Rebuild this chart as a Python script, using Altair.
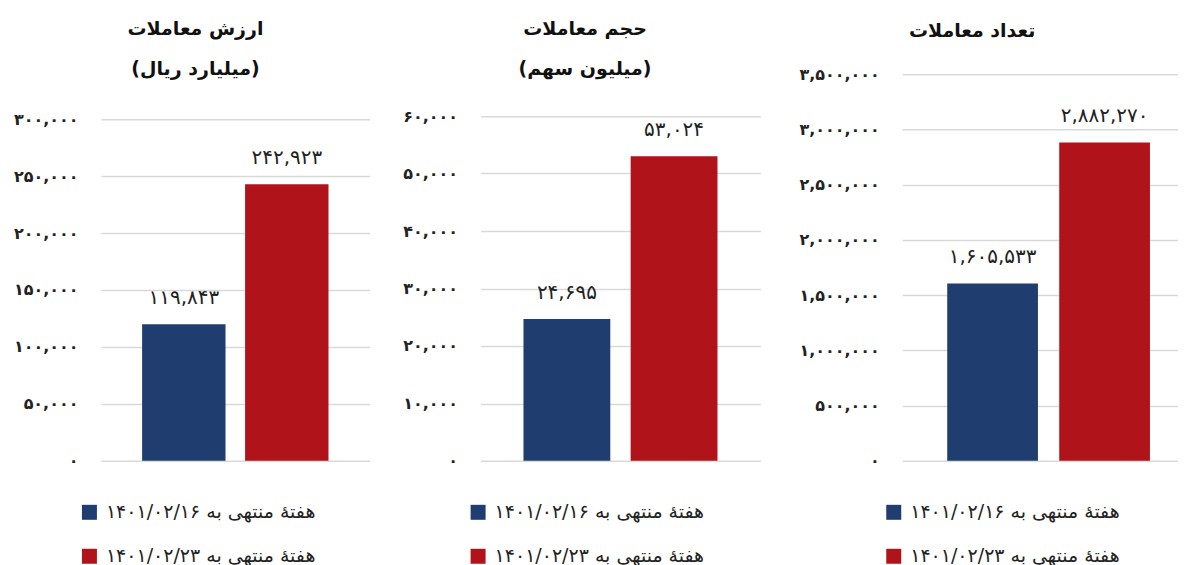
import altair as alt
import pandas as pd

series_labels = ["هفتهٔ منتهی به ۱۴۰۱/۰۲/۱۶", "هفتهٔ منتهی به ۱۴۰۱/۰۲/۲۳"]
series_colors = ["#203D70", "#B0141A"]

value_vals = [119843, 242923]      # ارزش معاملات (میلیارد ریال)
volume_vals = [24695, 53024]       # حجم معاملات (میلیون سهم)
count_vals = [1605533, 2882270]    # تعداد معاملات

value_domain = [0, 300000]
volume_domain = [0, 60000]
count_domain = [0, 3500000]
value_tick_count = 6
volume_tick_count = 6
count_tick_count = 7

titles = [
    ["ارزش معاملات", "(میلیارد ریال)"],
    ["حجم معاملات", "(میلیون سهم)"],
    ["تعداد معاملات"],
]

persian_digits = ["۰", "۱", "۲", "۳", "۴", "۵", "۶", "۷", "۸", "۹"]

FONT = "DejaVu Sans"
H = 387


def panel(vals, domain, tick_count, title, width, top_gap, extent,
          title_dx, title_offset, leg_x, band_pad_outer, band_align):
    df = pd.DataFrame({"series": series_labels, "value": vals})
    base = alt.Chart(df).encode(
        x=alt.X("series:N", sort=series_labels, axis=None,
                scale=alt.Scale(paddingInner=0.19,
                                paddingOuter=band_pad_outer,
                                align=band_align)),
        y=alt.Y("value:Q",
                scale=alt.Scale(domain=domain, nice=False,
                                range=[H, top_gap]),
                axis=alt.Axis(tickCount=tick_count, format=",d", title=None,
                              domain=False, ticks=False, grid=True,
                              gridColor="#D9D9D9", gridWidth=1.5,
                              labelFont=FONT, labelFontSize=16,
                              labelFontWeight=600, labelColor="#222222",
                              labelPadding=23, minExtent=extent,
                              maxExtent=extent)),
    )
    bars = base.mark_bar().encode(
        color=alt.Color("series:N", sort=series_labels,
                        scale=alt.Scale(domain=series_labels,
                                        range=series_colors),
                        legend=alt.Legend(title=None, orient="none",
                                          legendX=leg_x, legendY=429,
                                          symbolType="square",
                                          symbolSize=225,
                                          symbolStrokeWidth=0,
                                          labelFont=FONT, labelFontSize=19,
                                          labelColor="#222222",
                                          labelLimit=400, labelOffset=7,
                                          rowPadding=24))
    )
    labels = base.mark_text(font=FONT, fontSize=20, color="#222222",
                            baseline="middle", dy=-26).encode(
        text=alt.Text("value:Q", format=",")
    )
    return alt.layer(bars, labels).properties(
        width=width, height=H,
        title=alt.TitleParams(text=title, anchor="middle", frame="bounds",
                              font=FONT, fontSize=19, fontWeight="bold",
                              color="#111111", lineHeight=40,
                              offset=title_offset, dx=title_dx),
    )


p1 = panel(value_vals, value_domain, value_tick_count, titles[0],
           269, 45, 87, 4, -5, -21, 0.4, 0.5)
p2 = panel(volume_vals, volume_domain, volume_tick_count, titles[1],
           280, 42, 91, 10, -5, -12, 0.4, 0.5)
p3 = panel(count_vals, count_domain, count_tick_count, titles[2],
           276, 0, 122, -7, 25, -18, 0.326, 0.616)

chart = alt.hconcat(p1, p2, p3, spacing=20).resolve_scale(
    y="independent", color="independent", x="independent"
).resolve_legend(color="independent").properties(
    padding={"left": 5, "top": 12, "right": 0, "bottom": 0}
).configure(
    locale=alt.Locale(number=alt.NumberLocale(
        decimal=".", thousands=",", grouping=[3], currency=["", ""],
        numerals=persian_digits)),
    view=alt.ViewConfig(stroke=None),
)

chart.save("out.html", embed_options={"renderer": "svg", "actions": False})
